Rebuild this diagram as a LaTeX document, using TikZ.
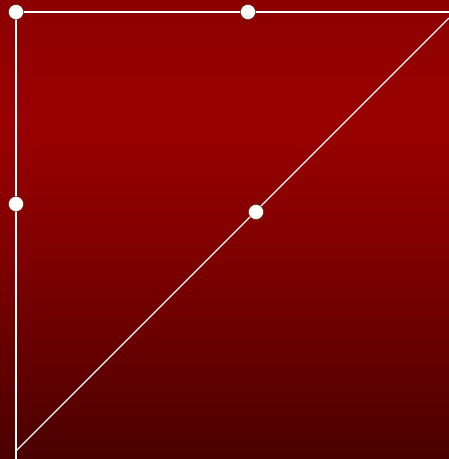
\documentclass[tikz,border=0pt]{standalone}
\definecolor{bgtop}{HTML}{8C0000}
\definecolor{bgmid}{HTML}{9A0000}
\definecolor{bglow}{HTML}{7E0000}
\definecolor{bgbot}{HTML}{4A0000}
\definecolor{dotrim}{HTML}{3A3A00}
\tikzset{
  wline/.style={draw=white, line width=1.1pt},
  dot/.style={circle, fill=white, draw=dotrim, line width=0.4pt, minimum size=15pt, inner sep=0pt}
}
\begin{document}
\begin{tikzpicture}[x=1pt,y=-1pt]
\useasboundingbox (0,0) rectangle (449,459);
\fill[top color=bgtop, bottom color=bgmid] (0,0) rectangle (449,120.5);
\fill[top color=bgmid, bottom color=bglow] (0,120) rectangle (449,260.5);
\fill[top color=bglow, bottom color=bgbot] (0,260) rectangle (449,459);
\coordinate (tr) at (449,12);
\coordinate (bl) at (16,459);
\coordinate (ds) at (16,451);
\coordinate (de) at (449,18);
\draw[wline] (16,12) -- (tr);
\draw[wline] (16,12) -- (bl);
\draw[wline] (ds) -- (de);
\node[dot] (a) at (16,12) {};
\node[dot] (b) at (248,12) {};
\node[dot] (c) at (16,204) {};
\node[dot] (d) at (256,212) {};
\end{tikzpicture}
\end{document}
